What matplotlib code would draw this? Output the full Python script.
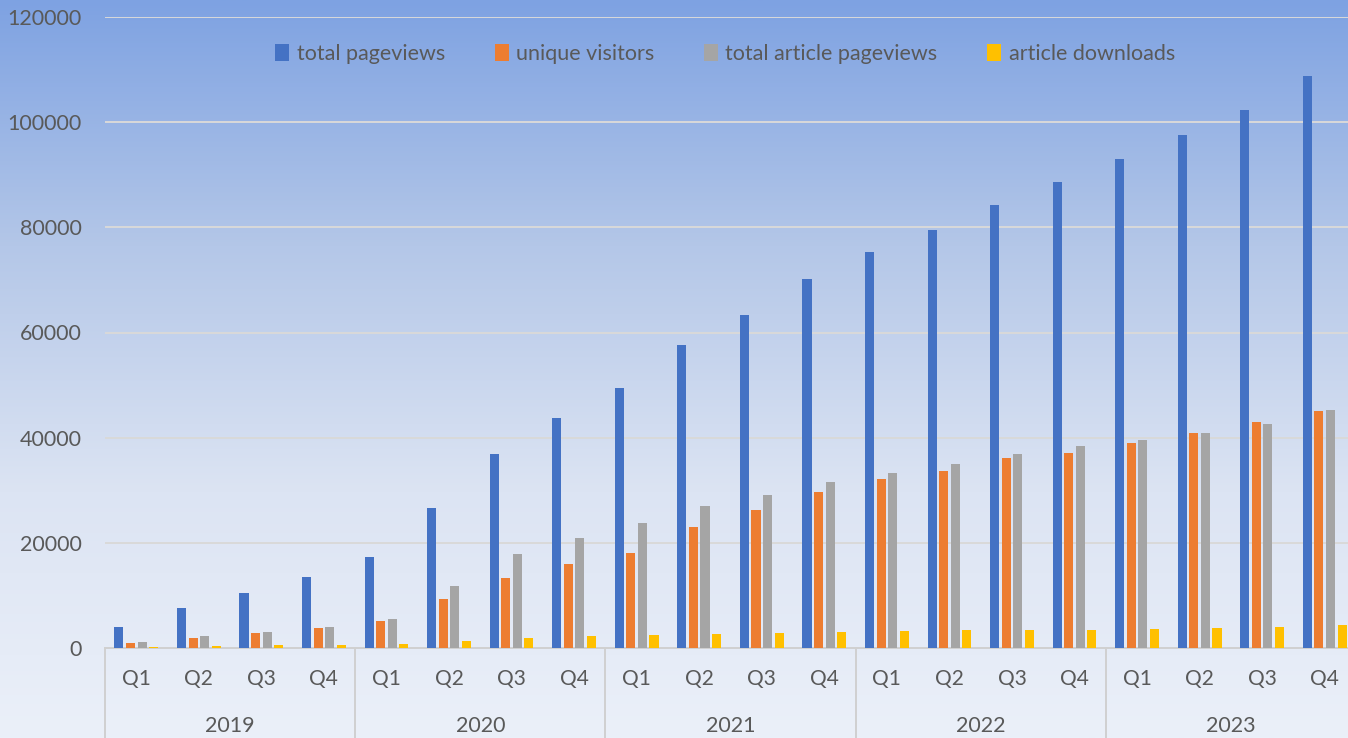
import numpy as np
import matplotlib
matplotlib.use("Agg")
import matplotlib.pyplot as plt
import matplotlib.transforms as mtransforms
from matplotlib.colors import LinearSegmentedColormap

years = ["2019", "2020", "2021", "2022", "2023"]
quarters = ["Q1", "Q2", "Q3", "Q4"]

total_pageviews = [4000, 7550, 10450, 13450, 17300, 26600, 36850, 43700,
                   49500, 57700, 63250, 70200, 75400, 79500, 84300, 88700,
                   93050, 97550, 102250, 108700]
unique_visitors = [950, 1950, 2800, 3800, 5100, 9350, 13300, 15950,
                   18000, 23000, 26300, 29600, 32150, 33600, 36100, 37050,
                   39000, 40950, 42950, 45100]
article_pageviews = [1150, 2200, 3050, 4000, 5500, 11700, 17850, 20900,
                     23850, 27000, 29100, 31550, 33350, 34900, 36850, 38350,
                     39500, 40950, 42650, 45200]
article_downloads = [100, 350, 550, 550, 800, 1300, 1950, 2200,
                     2400, 2700, 2850, 3100, 3300, 3400, 3450, 3500,
                     3600, 3850, 4050, 4300]

series = [("total pageviews", total_pageviews, "#4472C4"),
          ("unique visitors", unique_visitors, "#ED7D31"),
          ("total article pageviews", article_pageviews, "#A5A5A5"),
          ("article downloads", article_downloads, "#FFC000")]

W, H = 1348, 738
fig = plt.figure(figsize=(W / 100, H / 100), dpi=100)
plt.rcParams['font.family'] = ['Lato', 'DejaVu Sans']

# background gradient over the whole figure
bg = fig.add_axes([0, 0, 1, 1], zorder=-10)
grad = np.linspace(0, 1, 256).reshape(-1, 1)
cmap = LinearSegmentedColormap.from_list("bg", ["#7EA2E2", "#B4C7E8", "#DCE4F3", "#EBF0F9"])
bg.imshow(grad, aspect="auto", cmap=cmap, extent=[0, 1, 0, 1])
bg.axis("off")

# plot area runs a little past the right edge of the picture
left, right = 105 / W, 1356 / W
bottom, top = 1 - 648 / H, 1 - 17 / H
ax = fig.add_axes([left, bottom, right - left, top - bottom])
ax.patch.set_alpha(0)

n = len(total_pageviews)
x = np.arange(n)
bw = 0.145
step = 0.185
for i, (name, vals, col) in enumerate(series):
    ax.bar(x + (i - 1.5) * step, vals, width=bw, color=col, label=name, zorder=3)

ax.set_xlim(-0.5, n - 0.5)
ax.set_ylim(0, 120000)
ax.set_yticks(range(0, 120001, 20000))
ax.set_yticklabels([str(v) for v in range(0, 120001, 20000)], fontsize=15.5, color="#595959")
ax.tick_params(axis="y", length=0, pad=17)
ax.set_xticks([])
ax.grid(axis="y", color="#D9D9D9", linewidth=1.4, zorder=0)
for s in ["top", "right", "left"]:
    ax.spines[s].set_visible(False)
ax.spines["bottom"].set_color("#D0D0D0")
ax.spines["bottom"].set_linewidth(1.4)

# two-level category axis
trans = mtransforms.blended_transform_factory(ax.transData, ax.transAxes)
axh = 648 - 17
for k in range(n):
    ax.text(x[k], -31 / axh, quarters[k % 4], transform=trans, ha="center", va="center",
            fontsize=15, color="#595959")
for j, yr in enumerate(years):
    ax.text(j * 4 + 1.5, -78 / axh, yr, transform=trans, ha="center", va="center",
            fontsize=15.5, color="#595959")
for j in range(len(years) + 1):
    ax.plot([j * 4 - 0.5, j * 4 - 0.5], [0, -95 / axh], transform=trans, color="#D0D0D0",
            linewidth=1.4, clip_on=False)

leg = fig.legend(loc="center", bbox_to_anchor=(725 / W, 1 - 54 / H), ncol=4, frameon=False,
                 fontsize=15.5, handlelength=0.65, handleheight=0.85, handletextpad=0.35,
                 columnspacing=2.3, labelcolor="#595959")

fig.savefig("out.png", dpi=100)
